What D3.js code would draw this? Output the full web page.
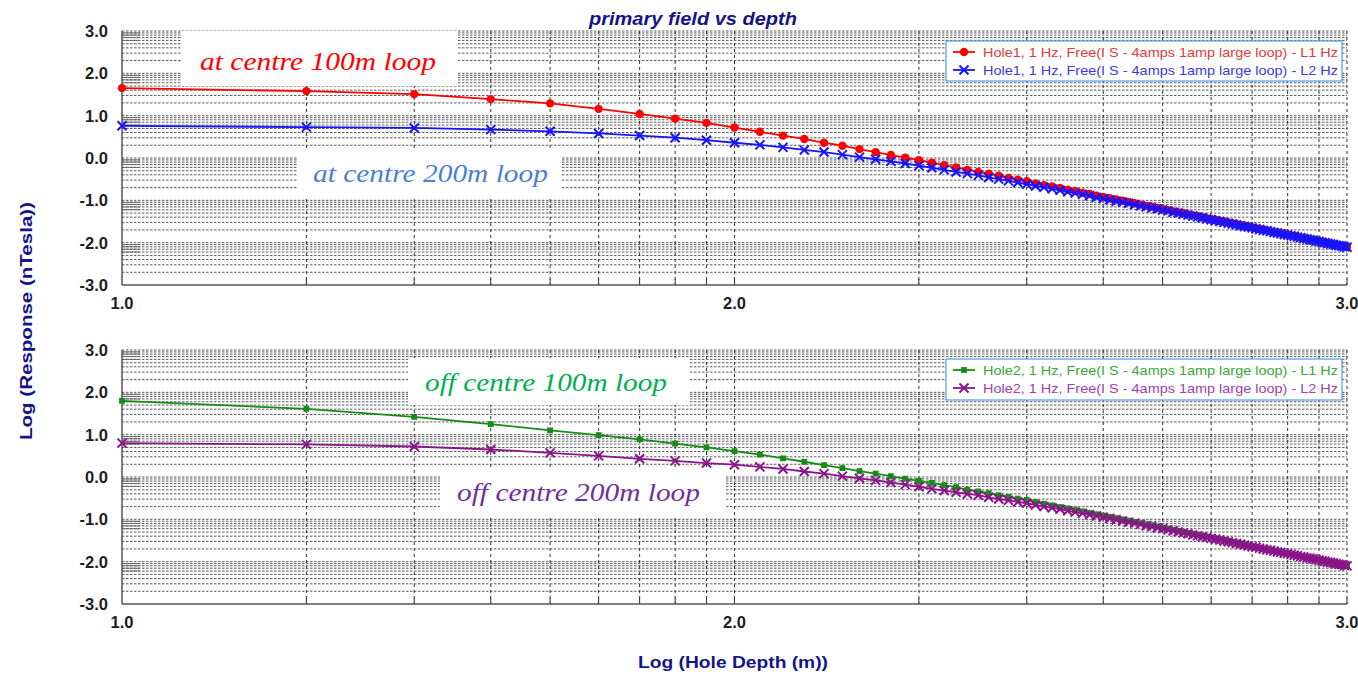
<!DOCTYPE html>
<html>
<head>
<meta charset="utf-8">
<script src="https://cdn.jsdelivr.net/npm/d3@7"></script>
<style>
  body{margin:0;background:#fff;}
  svg text{font-family:"Liberation Sans",Arial,sans-serif;}
</style>
</head>
<body>
<svg id="chart" width="1358" height="675"></svg>
<script>
  // hole depth (m), one reading every 10 m
  var depths=[10,20,30,40,50,60,70,80,90,100,110,120,130,140,150,160,170,180,190,200,
    210,220,230,240,250,260,270,280,290,300,310,320,330,340,350,360,370,380,390,400,
    410,420,430,440,450,460,470,480,490,500,510,520,530,540,550,560,570,580,590,600,
    610,620,630,640,650,660,670,680,690,700,710,720,730,740,750,760,770,780,790,800,
    810,820,830,840,850,860,870,880,890,900,910,920,930,940,950,960,970,980,990,1000];

  // log response (nT)
  var hole1L1=[1.65,1.58,1.51,1.39,1.29,1.16,1.04,0.93,0.83,0.72,
    0.62,0.53,0.45,0.36,0.29,0.21,0.14,0.07,0.01,-0.05,
    -0.11,-0.17,-0.22,-0.28,-0.33,-0.37,-0.42,-0.47,-0.51,-0.55,
    -0.60,-0.64,-0.67,-0.71,-0.75,-0.78,-0.82,-0.85,-0.89,-0.92,
    -0.95,-0.98,-1.01,-1.04,-1.07,-1.10,-1.13,-1.15,-1.18,-1.21,
    -1.23,-1.26,-1.28,-1.30,-1.33,-1.35,-1.37,-1.40,-1.42,-1.44,
    -1.46,-1.48,-1.50,-1.52,-1.54,-1.56,-1.58,-1.60,-1.62,-1.64,
    -1.66,-1.68,-1.69,-1.71,-1.73,-1.75,-1.76,-1.78,-1.80,-1.81,
    -1.83,-1.84,-1.86,-1.88,-1.89,-1.91,-1.92,-1.94,-1.95,-1.97,
    -1.98,-1.99,-2.01,-2.02,-2.04,-2.05,-2.06,-2.08,-2.09,-2.10];
  var hole1L2=[0.76,0.73,0.71,0.67,0.63,0.58,0.53,0.48,0.42,0.36,
    0.31,0.25,0.19,0.14,0.08,0.02,-0.03,-0.08,-0.13,-0.18,
    -0.23,-0.28,-0.33,-0.37,-0.41,-0.46,-0.50,-0.54,-0.58,-0.62,
    -0.66,-0.69,-0.73,-0.76,-0.80,-0.83,-0.86,-0.89,-0.93,-0.96,
    -0.99,-1.02,-1.04,-1.07,-1.10,-1.13,-1.15,-1.18,-1.20,-1.23,
    -1.25,-1.28,-1.30,-1.33,-1.35,-1.37,-1.39,-1.41,-1.44,-1.46,
    -1.48,-1.50,-1.52,-1.54,-1.56,-1.58,-1.60,-1.62,-1.63,-1.65,
    -1.67,-1.69,-1.71,-1.72,-1.74,-1.76,-1.77,-1.79,-1.81,-1.82,
    -1.84,-1.85,-1.87,-1.88,-1.90,-1.91,-1.93,-1.94,-1.96,-1.97,
    -1.99,-2.00,-2.02,-2.03,-2.04,-2.06,-2.07,-2.08,-2.10,-2.11];
  var hole2L1=[1.80,1.61,1.42,1.25,1.10,0.99,0.89,0.79,0.70,0.61,
    0.53,0.44,0.36,0.28,0.21,0.14,0.08,0.02,-0.04,-0.09,
    -0.14,-0.19,-0.24,-0.30,-0.34,-0.38,-0.43,-0.47,-0.51,-0.54,
    -0.59,-0.63,-0.67,-0.71,-0.74,-0.78,-0.81,-0.85,-0.88,-0.91,
    -0.94,-0.97,-1.00,-1.03,-1.06,-1.09,-1.12,-1.14,-1.17,-1.20,
    -1.22,-1.25,-1.27,-1.30,-1.32,-1.34,-1.37,-1.39,-1.41,-1.43,
    -1.45,-1.47,-1.49,-1.51,-1.53,-1.55,-1.57,-1.59,-1.61,-1.63,
    -1.65,-1.67,-1.69,-1.70,-1.72,-1.74,-1.75,-1.77,-1.79,-1.80,
    -1.82,-1.83,-1.85,-1.87,-1.88,-1.90,-1.91,-1.93,-1.94,-1.96,
    -1.97,-1.98,-2.00,-2.01,-2.03,-2.04,-2.05,-2.07,-2.08,-2.09];
  var hole2L2=[0.80,0.77,0.72,0.65,0.57,0.50,0.43,0.38,0.33,0.29,
    0.24,0.19,0.13,0.08,0.02,-0.03,-0.08,-0.13,-0.18,-0.23,
    -0.28,-0.32,-0.36,-0.40,-0.43,-0.48,-0.52,-0.55,-0.59,-0.62,
    -0.66,-0.70,-0.73,-0.76,-0.80,-0.83,-0.86,-0.89,-0.92,-0.95,
    -0.98,-1.01,-1.04,-1.07,-1.09,-1.12,-1.15,-1.17,-1.20,-1.22,
    -1.25,-1.27,-1.30,-1.32,-1.34,-1.37,-1.39,-1.41,-1.43,-1.45,
    -1.47,-1.49,-1.51,-1.53,-1.55,-1.57,-1.59,-1.61,-1.63,-1.65,
    -1.66,-1.68,-1.70,-1.72,-1.73,-1.75,-1.77,-1.78,-1.80,-1.81,
    -1.83,-1.85,-1.86,-1.88,-1.89,-1.91,-1.92,-1.93,-1.95,-1.96,
    -1.98,-1.99,-2.01,-2.02,-2.03,-2.05,-2.06,-2.07,-2.09,-2.10];

  var xTickDepths=[10,100,1000];
  var xTickLabels=["1.0","2.0","3.0"];
  var yTickValues=[3,2,1,0,-1,-2,-3];
  var yTickLabels=["3.0","2.0","1.0","0.0","-1.0","-2.0","-3.0"];
  var legendNames1=["Hole1, 1 Hz, Free(I S - 4amps 1amp large loop)  - L1 Hz","Hole1, 1 Hz, Free(I S - 4amps 1amp large loop)  - L2 Hz"];
  var legendNames2=["Hole2, 1 Hz, Free(I S - 4amps 1amp large loop)  - L1 Hz","Hole2, 1 Hz, Free(I S - 4amps 1amp large loop)  - L2 Hz"];
  var notes1=["at centre 100m loop","at centre 200m loop"];
  var notes2=["off centre 100m loop","off centre 200m loop"];

  var svg=d3.select("#chart");
  var left=122, right=1347;
  var navy="#14148a";

  var x=d3.scaleLog().domain([10,1000]).range([left,right]);

  // title
  svg.append("text").attr("x",589).attr("y",25)
    .attr("textLength",208).attr("lengthAdjust","spacingAndGlyphs")
    .style("font-size","18px").style("font-weight","bold").style("font-style","italic")
    .attr("fill",navy).text("primary field vs depth");

  function drawPanel(top,bottom,series,legendNames,legendBox,notes){
    var y=d3.scaleLinear().domain([-3,3]).range([bottom,top]);
    var g=svg.append("g");

    // horizontal grid: log minor lines inside each decade
    var hVals=[];
    for(var n=-3;n<3;n++){
      for(var m=2;m<=9;m++) hVals.push(n+Math.log10(m));
      hVals.push(n+1);
    }
    g.selectAll(".hgrid").data(hVals).enter().append("line")
      .attr("x1",left).attr("x2",right)
      .attr("y1",function(d){return y(d);}).attr("y2",function(d){return y(d);})
      .attr("stroke","#5a5a5a").attr("stroke-width",1)
      .attr("stroke-dasharray","2.5,1.5");

    // vertical grid
    var vVals=[20,30,40,50,60,70,80,90,100,200,300,400,500,600,700,800,900,1000];
    g.selectAll(".vgrid").data(vVals).enter().append("line")
      .attr("x1",function(d){return x(d);}).attr("x2",function(d){return x(d);})
      .attr("y1",top).attr("y2",bottom)
      .attr("stroke","#333").attr("stroke-width",1)
      .attr("stroke-dasharray","3,3");
    g.selectAll(".vtick").data(vVals).enter().append("line")
      .attr("x1",function(d){return x(d);}).attr("x2",function(d){return x(d);})
      .attr("y1",bottom-6).attr("y2",bottom)
      .attr("stroke","#333").attr("stroke-width",1);

    // short solid ticks on the left axis
    g.selectAll(".ytick").data(hVals.filter(function(d){return (d-Math.floor(d))>0.77;})).enter().append("line")
      .attr("x1",left).attr("x2",left+18)
      .attr("y1",function(d){return y(d);}).attr("y2",function(d){return y(d);})
      .attr("stroke","#666").attr("stroke-width",1);

    // frame
    g.append("line").attr("x1",left).attr("x2",left).attr("y1",top).attr("y2",bottom)
      .attr("stroke","#555").attr("stroke-width",1.5);
    g.append("line").attr("x1",left).attr("x2",right).attr("y1",bottom).attr("y2",bottom)
      .attr("stroke","#555").attr("stroke-width",1.5);

    // annotation boxes
    notes.forEach(function(nt){
      g.append("rect").attr("x",nt.bx).attr("y",nt.by).attr("width",nt.bw).attr("height",nt.bh)
        .attr("fill","#fff");
      g.append("text").attr("x",nt.tx).attr("y",nt.ty)
        .attr("textLength",nt.tw).attr("lengthAdjust","spacingAndGlyphs")
        .style("font-family","'Liberation Serif','Times New Roman',serif")
        .style("font-style","italic").style("font-size","26px")
        .attr("fill",nt.color).text(nt.text);
    });

    // series
    var line=d3.line().x(function(d){return x(d[0]);}).y(function(d){return y(d[1]);});
    series.forEach(function(s){
      var pts=depths.map(function(dp,i){return [dp,s.values[i]];});
      g.append("path").datum(pts).attr("d",line)
        .attr("fill","none").attr("stroke",s.color).attr("stroke-width",1.8);
      var mk=g.selectAll(null).data(pts).enter().append("path")
        .attr("transform",function(d){return "translate("+x(d[0])+","+y(d[1])+")";});
      styleMarker(mk,s);
    });

    // y tick labels
    g.selectAll(".ylab").data(yTickValues).enter().append("text")
      .attr("x",108).attr("y",function(d){return y(d)+6;})
      .attr("text-anchor","end").style("font-size","16.5px").style("font-weight","bold")
      .attr("fill","#1e1e1e").text(function(d,i){return yTickLabels[i];});
    // x tick labels
    g.selectAll(".xlab").data(xTickDepths).enter().append("text")
      .attr("x",function(d){return x(d);}).attr("y",bottom+24)
      .attr("text-anchor","middle").style("font-size","16.5px").style("font-weight","bold")
      .attr("fill","#1e1e1e").text(function(d,i){return xTickLabels[i];});

    // legend
    var lg=g.append("g");
    lg.append("rect").attr("x",legendBox.x).attr("y",legendBox.y)
      .attr("width",legendBox.w).attr("height",legendBox.h)
      .attr("fill","#fff").attr("stroke","#4aa0e6").attr("stroke-width",1.2);
    series.forEach(function(s,i){
      var ly=legendBox.y+11+i*18;
      lg.append("line").attr("x1",legendBox.x+7).attr("x2",legendBox.x+29)
        .attr("y1",ly).attr("y2",ly).attr("stroke",s.color).attr("stroke-width",1.8);
      var mk=lg.append("path").datum([0,0]).attr("transform","translate("+(legendBox.x+18)+","+ly+")");
      styleMarker(mk,s);
      lg.append("text").attr("x",legendBox.x+37).attr("y",ly+5)
        .attr("textLength",355).attr("lengthAdjust","spacingAndGlyphs")
        .style("font-size","13px").attr("fill",s.textColor).text(legendNames[i]);
    });
  }

  function styleMarker(sel,s){
    if(s.marker=="circle"){
      sel.attr("d",d3.symbol().type(d3.symbolCircle).size(55)).attr("fill",s.color);
    } else if(s.marker=="square"){
      sel.attr("d",d3.symbol().type(d3.symbolSquare).size(34)).attr("fill",s.color);
    } else {
      sel.attr("d","M-4.5,-4.5L4.5,4.5M-4.5,4.5L4.5,-4.5").attr("fill","none")
        .attr("stroke",s.color).attr("stroke-width",2);
    }
  }

  drawPanel(31,285,[
      {values:hole1L1,color:"#ff0000",textColor:"#e03a3a",marker:"circle"},
      {values:hole1L2,color:"#1414ff",textColor:"#3a3ae0",marker:"x"}
    ],legendNames1,{x:946,y:41,w:396,h:40},[
      {text:notes1[0],color:"#ff0000",bx:182,by:31,bw:276,bh:55,tx:200,ty:70,tw:236},
      {text:notes1[1],color:"#4a7fd4",bx:298,by:150,bw:264,bh:46,tx:313,ty:182,tw:235}
    ]);
  drawPanel(350,604,[
      {values:hole2L1,color:"#168c16",textColor:"#3aa83a",marker:"square"},
      {values:hole2L2,color:"#8a148a",textColor:"#a040b0",marker:"x"}
    ],legendNames2,{x:946,y:359,w:396,h:41},[
      {text:notes2[0],color:"#00b050",bx:408,by:358,bw:282,bh:47,tx:425,ty:391,tw:242},
      {text:notes2[1],color:"#7030a0",bx:440,by:468,bw:286,bh:47,tx:457,ty:501,tw:243}
    ]);

  // axis titles
  svg.append("text").attr("transform","translate(32,321) rotate(-90)")
    .attr("text-anchor","middle").attr("textLength",238).attr("lengthAdjust","spacingAndGlyphs")
    .style("font-size","16px").style("font-weight","bold")
    .attr("fill",navy).text("Log (Response (nTesla))");
  svg.append("text").attr("x",733).attr("y",668)
    .attr("text-anchor","middle").attr("textLength",190).attr("lengthAdjust","spacingAndGlyphs")
    .style("font-size","16px").style("font-weight","bold")
    .attr("fill",navy).text("Log (Hole Depth (m))");
</script>
</body>
</html>
